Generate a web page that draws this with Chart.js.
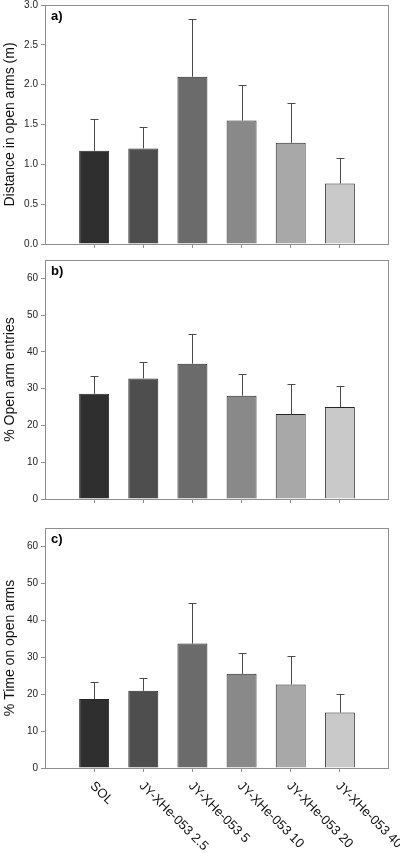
<!DOCTYPE html>
<html>
<head>
<meta charset="utf-8">
<script src="https://cdn.jsdelivr.net/npm/chart.js@4.4.1/dist/chart.umd.min.js"></script>
<style>
  body { margin: 0; background: #fff; width: 400px; height: 853px; overflow: hidden; position: relative; }
  canvas { position: absolute; left: 0; }
</style>
</head>
<body>
<canvas id="panelA" width="400" height="260" style="top:-4px"></canvas>
<canvas id="panelB" width="400" height="260" style="top:251px"></canvas>
<canvas id="panelC" width="400" height="334" style="top:519px"></canvas>
<script>
const groups = ['SOL', 'JY-XHe-053 2.5', 'JY-XHe-053 5', 'JY-XHe-053 10', 'JY-XHe-053 20', 'JY-XHe-053 40'];
const barColors = ['#2f2f2f', '#4e4e4e', '#6b6b6b', '#898989', '#a8a8a8', '#c9c9c9'];

// a) distance in open arms (m), mean and SEM
const distance = [1.17, 1.20, 2.10, 1.55, 1.27, 0.76];
const distanceErr = [0.40, 0.27, 0.73, 0.45, 0.50, 0.32];
// b) % open arm entries
const entries = [28.6, 32.8, 36.8, 28.1, 23.1, 25.0];
const entriesErr = [4.9, 4.5, 8.0, 6.0, 8.3, 5.8];
// c) % time on open arms
const timeOpen = [18.7, 20.9, 33.7, 25.5, 22.6, 15.0];
const timeOpenErr = [4.6, 3.4, 11.1, 5.7, 7.8, 5.1];

const distanceTicks = [0, 0.5, 1.0, 1.5, 2.0, 2.5, 3.0];
const pctTicks = [0, 10, 20, 30, 40, 50, 60];

const FONT = '"Liberation Sans", Arial, sans-serif';
const frameColor = '#8f8f8f';

// frame box, panel letter, error bars
const decor = {
  id: 'decor',
  afterDatasetsDraw(chart, args, opts) {
    const ctx = chart.ctx;
    const xs = chart.scales.x, ys = chart.scales.y;
    const vals = chart.data.datasets[0].data;
    ctx.save();
    ctx.strokeStyle = '#4a4a4a';
    ctx.lineWidth = 1;
    opts.err.forEach((e, i) => {
      const x = Math.round(xs.getPixelForValue(i + 1)) + 0.5;
      const yb = ys.getPixelForValue(vals[i].y);
      const yt = Math.round(ys.getPixelForValue(vals[i].y + e)) + 0.5;
      ctx.beginPath();
      ctx.moveTo(x, yb);
      ctx.lineTo(x, yt);
      ctx.moveTo(x - 4, yt);
      ctx.lineTo(x + 4, yt);
      ctx.stroke();
    });
    const a = chart.chartArea;
    ctx.strokeStyle = frameColor;
    ctx.strokeRect(Math.round(a.left) + 0.5, Math.round(a.top) + 0.5,
      Math.round(a.right - a.left) - 1, Math.round(a.bottom - a.top));
    ctx.fillStyle = '#000';
    ctx.font = 'bold 13px ' + FONT;
    ctx.textAlign = 'left';
    ctx.textBaseline = 'alphabetic';
    ctx.fillText(opts.letter, a.left + 6, a.top + 15);
    if (opts.labels) {
      ctx.font = '13px ' + FONT;
      ctx.fillStyle = '#111';
      ctx.textBaseline = 'middle';
      groups.forEach((g, i) => {
        const x = xs.getPixelForValue(i + 1);
        ctx.save();
        ctx.translate(x - 2, a.bottom + 16);
        ctx.rotate(Math.PI / 4);
        ctx.fillText(g, 0, 0);
        ctx.restore();
      });
    }
    ctx.restore();
  }
};

function makePanel(id, values, errs, yMax, yTicks, digits, title, letter, xHeight, labels) {
  new Chart(document.getElementById(id), {
    type: 'bar',
    data: {
      datasets: [{
        data: values.map((v, i) => ({ x: i + 1, y: v })),
        backgroundColor: barColors,
        borderColor: '#262626',
        borderWidth: 1,
        barPercentage: 0.61,
        categoryPercentage: 1
      }]
    },
    options: {
      responsive: false,
      animation: false,
      devicePixelRatio: 1,
      layout: { padding: { top: 8, right: 11, left: 0, bottom: 0 } },
      plugins: {
        legend: { display: false },
        tooltip: { enabled: false },
        decor: { err: errs, letter: letter, labels: labels }
      },
      scales: {
        x: {
          type: 'linear',
          min: 0,
          max: 7,
          offset: false,
          grid: { offset: false, drawOnChartArea: false, drawTicks: true, tickLength: 4, color: frameColor },
          border: { display: false },
          ticks: { display: false },
          afterBuildTicks: s => { s.ticks = groups.map((g, i) => ({ value: i + 1 })); },
          afterFit: s => { s.height = xHeight; }
        },
        y: {
          min: 0,
          max: yMax,
          grid: { drawOnChartArea: false, drawTicks: true, tickLength: 4, color: frameColor },
          border: { display: false },
          ticks: {
            padding: 3,
            color: '#222',
            font: { family: FONT, size: 10 },
            callback: v => Number(v).toFixed(digits)
          },
          afterBuildTicks: s => { s.ticks = yTicks.map(v => ({ value: v })); },
          afterFit: s => { s.width = 45; },
          title: {
            display: true,
            text: title,
            color: '#111',
            font: { family: FONT, size: 14 },
            padding: { top: 2, bottom: 0 }
          }
        }
      }
    },
    plugins: [decor]
  });
}

makePanel('panelA', distance, distanceErr, 3, distanceTicks, 1, 'Distance in open arms (m)', 'a)', 12, false);
makePanel('panelB', entries, entriesErr, 65, pctTicks, 0, '% Open arm entries', 'b)', 12, false);
makePanel('panelC', timeOpen, timeOpenErr, 65, pctTicks, 0, '% Time on open arms', 'c)', 85, true);
</script>
</body>
</html>
